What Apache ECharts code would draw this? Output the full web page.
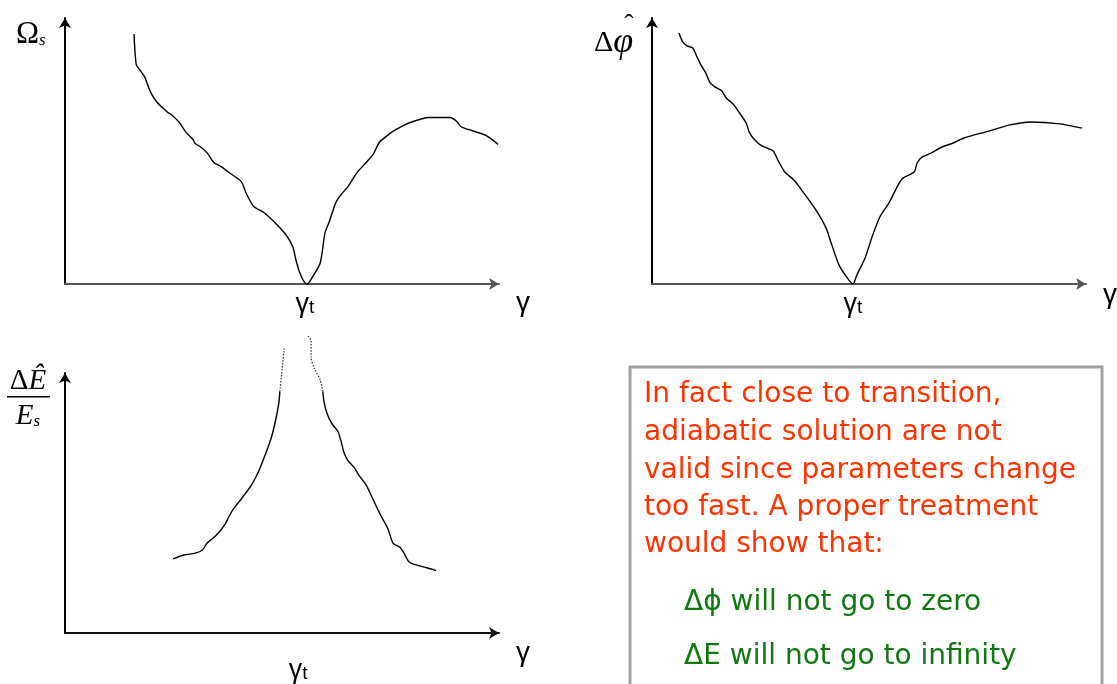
<!DOCTYPE html>
<html>
<head>
<meta charset="utf-8">
<script src="https://cdn.jsdelivr.net/npm/echarts@6/dist/echarts.min.js"></script>
<style>
html,body{margin:0;padding:0;background:#fff;}
#c{width:1117px;height:684px;}
</style>
</head>
<body>
<div id="c"></div>
<script>
// ---- data (arbitrary units, x: gamma 0..100, y: 0..100) ----
const gammaTOmega = 55.3;
const gammaTPhi = 46.3;
const gammaTE = 53.7;

const omegaCurve = [
  [15.9,94.0],[16.4,82.6],[17.1,80.8],[18.4,77.7],[19.6,72.5],[21.2,68.3],[23.7,64.5],[24.4,63.8],
  [26.3,60.8],[27.9,57.0],[29.5,54.3],[30.0,52.8],[31.1,51.7],[32.7,49.4],[34.3,45.7],[35.9,44.2],
  [37.8,41.9],[40.6,38.5],[41.7,34.3],[43.5,29.1],[45.9,26.8],[48.4,23.0],[50.9,18.5],[52.5,14.0],
  [53.2,9.1],[54.1,4.2],[55.1,0.8],[55.8,0.0],[56.9,2.3],[58.8,7.9],[59.9,19.2],[60.8,23.0],
  [62.4,30.6],[63.6,33.6],[65.2,36.6],[67.3,41.9],[69.4,45.7],[71.0,48.7],[72.4,53.2],[74.0,55.5],
  [76.3,58.1],[79.7,60.8],[83.9,62.6],[88.7,62.6],[90.3,61.1],[91.2,59.2],[92.9,58.1],[96.5,56.2],
  [97.7,55.1],[99.8,52.5]
];

const phiCurve = [
  [6.2,94.4],[7.1,91.0],[8.1,89.5],[9.4,88.7],[10.4,85.3],[11.3,82.3],[12.4,79.3],[13.4,75.6],
  [14.5,74.1],[16.1,72.6],[17.1,69.9],[18.7,67.7],[20.0,64.7],[21.7,60.5],[22.4,57.1],[23.7,54.1],
  [25.3,51.9],[27.9,50.0],[29.0,46.6],[30.6,42.1],[32.7,39.1],[34.8,34.6],[37.6,28.2],[40.1,21.1],
  [41.2,15.8],[43.1,7.1],[44.7,3.0],[46.3,0.0],[47.2,3.4],[49.1,9.8],[50.7,17.7],[52.5,25.2],
  [54.6,30.5],[56.7,37.2],[57.8,39.8],[60.4,42.1],[61.1,45.5],[62.2,47.7],[64.3,49.2],[66.8,51.5],
  [69.4,53.0],[71.9,54.9],[77.6,57.5],[82.5,59.8],[87.3,60.9],[94.0,60.2],[99.1,58.6]
];

const eLeftSolid = [
  [24.9,28.5],[27.4,30.0],[30.0,30.7],[31.6,31.8],[32.7,34.5],[34.8,37.5],[36.9,41.9],[37.8,44.9],
  [38.9,47.9],[41.0,52.4],[43.1,57.3],[44.7,62.5],[46.3,69.3],[47.5,74.9],[48.6,82.4],[49.3,88.8],
  [49.5,92.9]
];
const eLeftDotted = [[49.5,92.9],[50.0,101.1],[50.5,109.4]];
const eRightDotted = [[56.0,114.2],[56.7,112.4],[56.7,106.0],[57.4,101.9],[58.8,97.4],[59.4,92.9]];
const eRightSolid = [
  [59.4,92.9],[59.7,88.8],[60.4,84.3],[61.5,80.5],[62.9,77.5],[63.6,73.8],[64.3,69.3],[65.2,66.3],
  [66.6,63.7],[67.7,60.7],[69.4,56.9],[71.0,51.3],[72.6,45.7],[74.4,40.1],[75.6,34.5],[77.2,33.0],
  [78.1,30.7],[79.3,27.3],[80.9,26.2],[83.4,25.1],[85.5,24.0]
];

const boxRedLines = [
  'In fact close to transition,',
  'adiabatic solution are not',
  'valid since parameters change',
  'too fast. A proper treatment',
  'would show that:'
];
const boxGreenLines = ['Δϕ will not go to zero', 'ΔE will not go to infinity'];

// ---- chart ----
const SANS_N = '"Liberation Sans Narrow","Liberation Sans",Arial,sans-serif';
const SERIF = '"Liberation Serif","DejaVu Serif",serif';
const BOX_FONT = '"DejaVu Sans","Noto Sans",sans-serif';

function xAxisDef(grid, gt, labelMargin, color) {
  return {
    type: 'value', gridIndex: grid, min: 0, max: 100,
    axisLine: { show: true, onZero: false, symbol: ['none', 'arrow'], symbolSize: [9, 10],
      lineStyle: { color: color, width: 2 } },
    axisTick: { show: false },
    splitLine: { show: false },
    axisLabel: {
      customValues: [gt], margin: labelMargin,
      formatter: function () { return '{g|γ}{t|t}'; },
      rich: {
        g: { fontFamily: SANS_N, fontSize: 27, color: '#000' },
        t: { fontFamily: SANS_N, fontSize: 19, color: '#000', padding: [7, 0, 0, 0] }
      }
    }
  };
}
function yAxisDef(grid) {
  return {
    type: 'value', gridIndex: grid, min: 0, max: 100,
    axisLine: { show: true, onZero: false, symbol: ['none', 'arrow'], symbolSize: [9, 10],
      lineStyle: { color: '#000', width: 2 } },
    axisTick: { show: false }, axisLabel: { show: false }, splitLine: { show: false }
  };
}
function lineSeries(idx, data, dotted) {
  return {
    type: 'line', xAxisIndex: idx, yAxisIndex: idx, data: data, showSymbol: false,
    clip: false, silent: true, smooth: 0.25,
    lineStyle: dotted ? { color: '#333', width: 1.2, type: [1.5, 1.5] } : { color: '#000', width: 1.4 }
  };
}

const chart = echarts.init(document.getElementById('c'), null, { renderer: 'canvas' });

function gammaName(x, y) {
  return { type: 'text', x: x, y: y, style: { text: 'γ', fill: '#000',
    font: '28px ' + SANS_N, align: 'center', verticalAlign: 'middle' } };
}

const graphics = [
  // axis titles
  { type: 'text', x: 16, y: 35, style: { text: '{o|Ω}{s|s}', verticalAlign: 'middle',
      rich: { o: { fontFamily: SERIF, fontSize: 31, fill: '#000' },
              s: { fontFamily: SERIF, fontSize: 17, fontStyle: 'italic', fill: '#000', padding: [12, 0, 0, 0] } } } },
  { type: 'text', x: 594, y: 43, style: { text: '{d|Δ}{p|φ}', verticalAlign: 'middle',
      rich: { d: { fontFamily: SERIF, fontSize: 30, fill: '#000' },
              p: { fontFamily: SERIF, fontSize: 36, fontStyle: 'italic', fill: '#000' } } } },
  { type: 'text', x: 629, y: 26, style: { text: 'ˆ', fill: '#000', font: '28px ' + SERIF,
      align: 'center', verticalAlign: 'middle' } },
  { type: 'text', x: 28, y: 381, style: { text: '{d|Δ}{e|Ê}', align: 'center', verticalAlign: 'middle',
      rich: { d: { fontFamily: SERIF, fontSize: 29, fill: '#000' },
              e: { fontFamily: SERIF, fontSize: 29, fontStyle: 'italic', fill: '#000' } } } },
  { type: 'rect', shape: { x: 7, y: 396, width: 43, height: 1.5 }, style: { fill: '#000' } },
  { type: 'text', x: 28, y: 416, style: { text: '{e|E}{s|s}', align: 'center', verticalAlign: 'middle',
      rich: { e: { fontFamily: SERIF, fontSize: 29, fontStyle: 'italic', fill: '#000' },
              s: { fontFamily: SERIF, fontSize: 17, fontStyle: 'italic', fill: '#000', padding: [11, 0, 0, 0] } } } },
  gammaName(523, 303),
  gammaName(1110, 295),
  gammaName(523, 653),
  // text box
  { type: 'rect', shape: { x: 630, y: 367, width: 472, height: 340 },
    style: { fill: '#fff', stroke: '#a0a0a0', lineWidth: 3 } }
];
const redY = [395, 433, 471, 508, 545];
boxRedLines.forEach(function (t, i) {
  graphics.push({ type: 'text', x: 644, y: redY[i], style: { text: t, fill: '#ff3300',
    font: '28px ' + BOX_FONT, verticalAlign: 'middle' } });
});
const greenY = [603, 657];
boxGreenLines.forEach(function (t, i) {
  graphics.push({ type: 'text', x: 684, y: greenY[i], style: { text: t, fill: '#107810',
    font: '28px ' + BOX_FONT, verticalAlign: 'middle' } });
});

chart.setOption({
  animation: false,
  backgroundColor: '#fff',
  grid: [
    { left: 65, top: 18, width: 434, height: 266 },
    { left: 652, top: 18, width: 434, height: 266 },
    { left: 65, top: 373, width: 434, height: 267 }
  ],
  xAxis: [
    xAxisDef(0, gammaTOmega, 7, '#555'),
    xAxisDef(1, gammaTPhi, 7, '#555'),
    xAxisDef(2, gammaTE, 24, '#111')
  ],
  yAxis: [yAxisDef(0), yAxisDef(1), yAxisDef(2)],
  series: [
    lineSeries(0, omegaCurve, false),
    lineSeries(1, phiCurve, false),
    lineSeries(2, eLeftSolid, false),
    lineSeries(2, eLeftDotted, true),
    lineSeries(2, eRightDotted, true),
    lineSeries(2, eRightSolid, false)
  ],
  graphic: graphics
});
</script>
</body>
</html>
